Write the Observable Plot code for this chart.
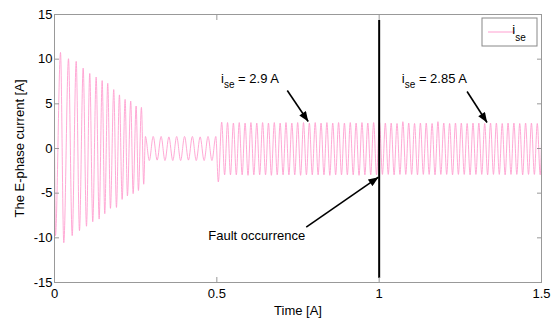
<!DOCTYPE html>
<html><head><meta charset="utf-8">
<script src="https://cdn.jsdelivr.net/npm/d3@7"></script>
<script src="https://cdn.jsdelivr.net/npm/@observablehq/plot@0.6"></script>
<style>body{margin:0;background:#fff}#chart{width:558px;height:320px}</style>
</head><body><div id="chart"></div>
<script>
// ---- data ----
const xTicks = [0, 0.5, 1, 1.5];
const yTicks = [-15, -10, -5, 0, 5, 10, 15];

// extrema (peak / trough) of i_se, segment by segment
const seg1Time = [0, 0.003, 0.0185, 0.0286, 0.0431, 0.0545, 0.0668, 0.0769, 0.0883, 0.0985,
  0.1086, 0.1178, 0.1283, 0.1375, 0.1468, 0.1548, 0.164, 0.1723, 0.1825, 0.1908,
  0.2, 0.2083, 0.2175, 0.2246, 0.2348, 0.2422, 0.2514, 0.2585, 0.2677, 0.2748];
const seg1Value = [1.0, -9.75, 10.75, -10.55, 10.05, -9.75, 9.75, -9.2, 9.0, -8.7,
  8.4, -8.2, 8.0, -7.9, 7.6, -7.3, 7.3, -6.7, 6.6, -6.6,
  6.0, -5.7, 5.5, -5.3, 5.3, -5.05, 4.75, -4.7, 4.6, -4.0];

const seg2Time = [0.280, 0.292, 0.304, 0.3162, 0.3283, 0.3403, 0.3523, 0.3643, 0.3763, 0.3885,
  0.4006, 0.4126, 0.4246, 0.4366, 0.4486, 0.4608, 0.4729, 0.4849, 0.4969];
const seg2Value = [1.35, -1.35, 1.35, -1.3, 1.35, -1.35, 1.3, -1.35, 1.35, -1.35,
  1.35, -1.3, 1.35, -1.35, 1.3, -1.35, 1.35, -1.35, 1.35];

const seg3Time = [0.5046, 0.515, 0.524, 0.533, 0.542, 0.551, 0.560, 0.569, 0.578, 0.587, 0.596,
  0.605, 0.614, 0.623, 0.632, 0.641, 0.650, 0.659, 0.668, 0.677, 0.686,
  0.695, 0.704, 0.713, 0.722, 0.731, 0.740, 0.749, 0.758, 0.767, 0.776,
  0.785, 0.794, 0.803, 0.812, 0.821, 0.830, 0.839, 0.848, 0.857, 0.866,
  0.875, 0.884, 0.893, 0.902, 0.911, 0.920, 0.929, 0.938, 0.947, 0.956,
  0.965, 0.974, 0.983, 0.992];
const seg3Value = [-3.75,
  2.95, -2.95, 2.9, -2.95, 2.85, -2.95, 2.9, -2.95, 2.85, -3.0,
  2.9, -2.95, 2.85, -2.95, 2.9, -2.95, 2.85, -3.0, 2.9, -2.95,
  2.85, -2.95, 2.9, -2.95, 2.85, -2.95, 2.9, -3.0, 2.9, -2.95,
  2.85, -2.95, 2.9, -2.95, 2.85, -2.95, 2.9, -3.0, 2.85, -2.95,
  2.9, -2.95, 2.85, -2.95, 2.9, -2.95, 2.85, -3.0, 2.9, -2.95,
  2.85, -2.95, 2.9, -2.95];

const seg4Time = [1.001, 1.010, 1.019, 1.028, 1.037, 1.046, 1.055, 1.064, 1.073, 1.082,
  1.091, 1.100, 1.109, 1.118, 1.127, 1.136, 1.145, 1.154, 1.163, 1.172,
  1.181, 1.190, 1.199, 1.208, 1.217, 1.226, 1.235, 1.244, 1.253, 1.262,
  1.271, 1.280, 1.289, 1.298, 1.307, 1.316, 1.325, 1.334, 1.343, 1.352,
  1.361, 1.370, 1.379, 1.388, 1.397, 1.406, 1.415, 1.424, 1.433, 1.442,
  1.451, 1.460, 1.469, 1.478, 1.487, 1.496, 1.5];
const seg4Value = [2.95, -2.9, 2.85, -2.9, 2.85, -2.95, 2.8, -2.9, 3.0, -2.9,
  2.85, -2.9, 2.8, -2.95, 2.85, -2.9, 2.85, -2.9, 2.8, -2.95,
  3.0, -2.9, 2.85, -2.9, 2.8, -2.95, 2.85, -2.9, 2.85, -2.9,
  2.8, -2.95, 2.85, -2.9, 2.85, -2.9, 2.8, -2.95, 2.85, -2.9,
  2.85, -2.9, 2.8, -2.95, 2.85, -2.9, 2.85, -2.9, 2.8, -2.95,
  2.85, -2.9, 2.85, -2.9, 2.8, -2.95, 0.6];

const faultTime = [1];
const faultTop = 14.33, faultBottom = -14.55;

// annotations (anchor points in data units)
const annoLabels = [
  {t: 0.513, v: 7.8, sym: "i", sub: "se", rest: " = 2.9 A"},
  {t: 1.0698, v: 7.8, sym: "i", sub: "se", rest: " = 2.85 A"}
];
const faultLabel = [{t: 0.4738, v: -9.74, text: "Fault occurrence"}];
const arrows = [
  {t1: 0.717, v1: 6.49, t2: 0.7815, v2: 3.02},
  {t1: 1.2708, v1: 6.38, t2: 1.3323, v2: 2.91},
  {t1: 0.7754, v1: -8.81, t2: 0.9978, v2: -3.21}
];

// ---- build table ----
function seg(times, values) {
  const n = Math.min(times.length, values.length);
  return d3.range(n).map(i => ({t: times[i], v: values[i]}));
}
const signal = [
  ...seg(seg1Time, seg1Value), ...seg(seg2Time, seg2Value),
  ...seg(seg3Time, seg3Value), ...seg(seg4Time, seg4Value)
];

const width = 558, height = 320;
const marginLeft = 54, marginRight = 17, marginTop = 14, marginBottom = 38;
const font = "'Liberation Sans', Arial, Helvetica, sans-serif";
const pink = "#ff9fd0";
const axisGrey = "#999";
const fmt = d => String(d);

const plot = Plot.plot({
  width, height, marginLeft, marginRight, marginTop, marginBottom,
  style: {fontFamily: font, fontSize: "13px", background: "white", color: "black"},
  x: {domain: [0, 1.5]},
  y: {domain: [-15, 15]},
  marks: [
    Plot.line(signal, {x: "t", y: "v", curve: "monotone-x", stroke: pink, strokeWidth: 0.9}),
    Plot.ruleX(faultTime, {y1: faultTop, y2: faultBottom, stroke: "black", strokeWidth: 2}),
    Plot.link(arrows, {x1: "t1", y1: "v1", x2: "t2", y2: "v2", stroke: "black", strokeWidth: 1.6}),
    Plot.text(annoLabels, {x: "t", y: "v", text: "sym", textAnchor: "start", lineAnchor: "middle", fill: "black", fontSize: 13}),
    Plot.text(faultLabel, {x: "t", y: "v", text: "text", textAnchor: "start", lineAnchor: "middle", fill: "black", fontSize: 13}),
    Plot.frame({stroke: axisGrey}),
    Plot.axisX(xTicks, {anchor: "bottom", tickSize: -5, tickPadding: 11, stroke: axisGrey, fill: "black", tickFormat: fmt,
      label: "Time [A]", labelAnchor: "center", labelOffset: 32, labelArrow: false}),
    Plot.axisX(xTicks, {anchor: "top", tickSize: -5, stroke: axisGrey, tickFormat: () => "", label: null}),
    Plot.axisY(yTicks, {anchor: "left", tickSize: -5, tickPadding: 7, stroke: axisGrey, fill: "black", tickFormat: fmt,
      label: "The E-phase current [A]", labelAnchor: "center", labelOffset: 40, labelArrow: false}),
    Plot.axisY(yTicks, {anchor: "right", tickSize: -5, stroke: axisGrey, tickFormat: () => "", label: null})
  ]
});

document.getElementById("chart").appendChild(plot);
const svgEl = plot.tagName.toLowerCase() === "svg" ? plot : plot.querySelector("svg");
const s = d3.select(svgEl);

// filled arrow heads on the link mark
const defs = s.append("defs");
defs.append("marker").attr("id", "ahead").attr("viewBox", "0 0 10 8")
  .attr("refX", 10).attr("refY", 4).attr("markerUnits", "userSpaceOnUse")
  .attr("markerWidth", 11).attr("markerHeight", 8).attr("orient", "auto")
  .append("path").attr("d", "M0,0L10,4L0,8Z").attr("fill", "black");
s.selectAll('g[aria-label="link"] path').attr("marker-end", "url(#ahead)");

// subscripts in the annotation labels (first text mark)
const textGroups = s.selectAll('g[aria-label="text"]').nodes();
if (textGroups.length) {
  d3.select(textGroups[0]).selectAll("text").each(function(_, i) {
    const d = annoLabels[i];
    if (!d) return;
    const t = d3.select(this);
    t.text(null);
    t.append("tspan").text(d.sym);
    t.append("tspan").attr("font-size", 10).attr("dy", 5.5).text(d.sub);
    t.append("tspan").attr("dy", -5.5).text(d.rest);
  });
}

// legend box (inside upper right corner)
const lx = width - marginRight - 59, ly = marginTop + 4;
const lg = s.append("g").attr("font-family", font);
lg.append("rect").attr("x", lx).attr("y", ly).attr("width", 55).attr("height", 28)
  .attr("fill", "white").attr("stroke", "#888");
lg.append("line").attr("x1", lx + 6).attr("x2", lx + 33).attr("y1", ly + 14).attr("y2", ly + 14)
  .attr("stroke", pink).attr("stroke-width", 1);
const lt = lg.append("text").attr("x", lx + 37).attr("y", ly + 16.3).attr("font-size", 13).attr("fill", "black");
lt.append("tspan").text("i");
lt.append("tspan").attr("font-size", 10).attr("dy", 7).text("se");
</script>
</body></html>
